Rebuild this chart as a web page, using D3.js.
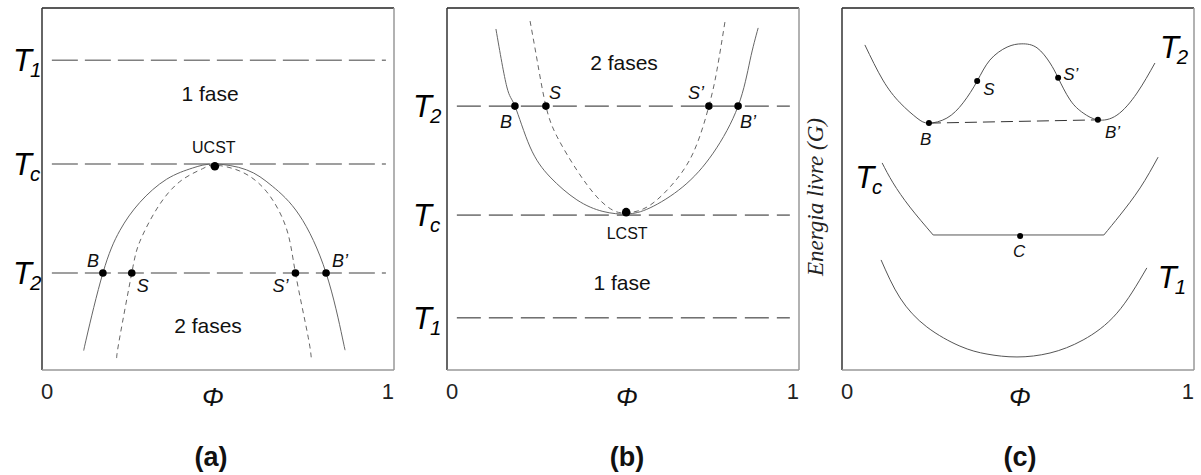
<!DOCTYPE html>
<html><head><meta charset="utf-8">
<script src="https://cdn.jsdelivr.net/npm/d3@7"></script>
<style>body{margin:0;background:#fff;} svg{display:block;}</style>
</head><body>
<svg id="chart" width="1201" height="475"></svg>
<script>
// ---------------- data ----------------
const phiTickLabels = ["0", "1"];
const panelTags = ["(a)", "(b)", "(c)"];
const levelSubs = ["1", "c", "2"];           // T1, Tc, T2

// panel (a): UCST diagram  [phi, T]
const levelsA = [0.856, 0.569, 0.268];      // T1, Tc, T2
const binodalA = [[0.119,0.055],[0.127,0.091],[0.173,0.268],[0.221,0.385],[0.278,0.463],[0.354,0.527],[0.428,0.558],[0.490,0.569],[0.581,0.553],[0.654,0.508],[0.731,0.428],[0.807,0.268],[0.853,0.091],[0.861,0.055]];
const spinodalA = [[0.212,0.033],[0.221,0.091],[0.255,0.268],[0.278,0.355],[0.326,0.445],[0.391,0.520],[0.456,0.556],[0.490,0.566],[0.561,0.550],[0.637,0.494],[0.694,0.392],[0.720,0.268],[0.754,0.102],[0.765,0.033]];
const pointNamesA = ["B", "S", "S’", "B’"];
const pointPhiA = [0.173, 0.255, 0.720, 0.807];
const criticalA = [0.491, 0.563];

// panel (b): LCST diagram  [phi, T]
const levelsB = [0.144, 0.428, 0.729];      // T1, Tc, T2
const binodalB = [[0.139,0.942],[0.170,0.782],[0.193,0.729],[0.236,0.616],[0.293,0.533],[0.369,0.470],[0.443,0.438],[0.511,0.431],[0.577,0.448],[0.670,0.506],[0.756,0.599],[0.827,0.729],[0.861,0.856],[0.884,0.945]];
const spinodalB = [[0.236,0.964],[0.256,0.856],[0.281,0.729],[0.313,0.644],[0.369,0.552],[0.426,0.478],[0.472,0.441],[0.511,0.434],[0.568,0.450],[0.634,0.506],[0.699,0.599],[0.744,0.729],[0.767,0.829],[0.790,0.964]];
const pointNamesB = ["B", "S", "S’", "B’"];
const pointPhiB = [0.193, 0.281, 0.744, 0.827];
const criticalB = [0.509, 0.436];

// panel (c): free energy curves  [phi, G]
const gT2 = [[0.065,0.898],[0.116,0.801],[0.165,0.738],[0.213,0.696],[0.247,0.682],[0.298,0.696],[0.344,0.738],[0.384,0.798],[0.420,0.856],[0.469,0.892],[0.511,0.901],[0.554,0.890],[0.591,0.848],[0.614,0.807],[0.648,0.746],[0.685,0.710],[0.727,0.691],[0.781,0.704],[0.838,0.765],[0.889,0.848]];
const gTcLeft = [[0.114,0.572],[0.145,0.517],[0.193,0.450],[0.259,0.373]];
const gTcFlat = [[0.259,0.373],[0.744,0.373]];
const gTcRight = [[0.744,0.373],[0.790,0.428],[0.847,0.503],[0.898,0.588]];
const gT1 = [[0.111,0.304],[0.165,0.199],[0.241,0.119],[0.335,0.066],[0.412,0.044],[0.497,0.036],[0.591,0.047],[0.685,0.083],[0.781,0.157],[0.866,0.282]];
const pointNamesC = ["B", "S", "S’", "B’"];
const pointsC = [[0.247,0.682],[0.384,0.798],[0.614,0.807],[0.727,0.691]];
const criticalC = [0.506, 0.370];
const criticalNameC = "C";
const yLabelC = "Energia livre (G)";

// ---------------- layout ----------------
const sans = "'Liberation Sans', Arial, Helvetica, sans-serif";
const serif = "'Liberation Serif', 'Times New Roman', serif";
const svg = d3.select("#chart");
const W = 352, yTop = 8, yBottom = 370;
const panelX = [42, 447, 842];

function makePanel(i) {
  const x = d3.scaleLinear().domain([0, 1]).range([panelX[i], panelX[i] + W]);
  const y = d3.scaleLinear().domain([0, 1]).range([yBottom, yTop]);
  const g = svg.append("g");
  // frame
  g.append("line").attr("x1", x(0)).attr("x2", x(1)).attr("y1", y(1)).attr("y2", y(1)).attr("stroke", "#222").attr("stroke-width", 1.5);
  g.append("line").attr("x1", x(0)).attr("x2", x(0)).attr("y1", y(1)).attr("y2", y(0)).attr("stroke", "#333").attr("stroke-width", 1.5);
  g.append("line").attr("x1", x(1)).attr("x2", x(1)).attr("y1", y(1)).attr("y2", y(0)).attr("stroke", "#999").attr("stroke-width", 1.5);
  g.append("line").attr("x1", x(0)).attr("x2", x(1)).attr("y1", y(0)).attr("y2", y(0)).attr("stroke", "#999").attr("stroke-width", 1.5);
  // tick labels 0 / 1
  g.append("text").attr("x", x(0) - 1).attr("y", 399).attr("font-family", sans).attr("font-size", 22).attr("fill", "#222").attr("text-anchor", "start").text(phiTickLabels[0]);
  g.append("text").attr("x", x(1)).attr("y", 399).attr("font-family", sans).attr("font-size", 22).attr("fill", "#222").attr("text-anchor", "end").text(phiTickLabels[1]);
  const off = [-5, 4, 2][i];
  g.append("text").attr("x", x(0.5) + off).attr("y", 406).attr("font-family", sans).attr("font-style", "italic").attr("font-size", 26).attr("fill", "#111").attr("text-anchor", "middle").text("Φ");
  g.append("text").attr("x", x(0.5) + [-7, 4, 2][i]).attr("y", 466).attr("font-family", sans).attr("font-weight", "bold").attr("font-size", 27).attr("fill", "#111").attr("text-anchor", "middle").text(panelTags[i]);
  return {g, x, y};
}

function tLabel(g, px, pyBase, sub, size) {
  const t = g.append("text").attr("x", px).attr("y", pyBase).attr("font-family", sans).attr("font-style", "italic").attr("font-size", size).attr("fill", "#000");
  t.append("tspan").text("T");
  t.append("tspan").attr("font-size", size * 0.66).attr("dx", -2).attr("dy", size * 0.2).text(sub);
}

function smallLabel(g, px, py, txt, size, anchor) {
  g.append("text").attr("x", px).attr("y", py).attr("font-family", sans).attr("font-style", "italic").attr("font-size", size).attr("fill", "#111").attr("text-anchor", anchor || "start").text(txt);
}
function plainLabel(g, px, py, txt, size) {
  g.append("text").attr("x", px).attr("y", py).attr("font-family", sans).attr("font-size", size).attr("fill", "#111").attr("text-anchor", "middle").text(txt);
}

const curve = d3.curveNatural;

// ---------- panel (a) ----------
{
  const {g, x, y} = makePanel(0);
  const line = d3.line().x(d => x(d[0])).y(d => y(d[1])).curve(curve);
  levelsA.forEach((lv, k) => {
    g.append("line").attr("x1", x(0.028)).attr("x2", x(0.977)).attr("y1", y(lv)).attr("y2", y(lv))
      .attr("stroke", "#808080").attr("stroke-width", 1.5).attr("stroke-dasharray", "26,7");
    tLabel(g, x(0) - 29, y(lv) + 11, levelSubs[k], 31);
  });
  g.append("path").attr("d", line(binodalA)).attr("fill", "none").attr("stroke", "#666").attr("stroke-width", 1);
  g.append("path").attr("d", line(spinodalA)).attr("fill", "none").attr("stroke", "#666").attr("stroke-width", 1).attr("stroke-dasharray", "5,4");
  const T2 = levelsA[2];
  pointPhiA.forEach(p => g.append("circle").attr("cx", x(p)).attr("cy", y(T2)).attr("r", 3.8).attr("fill", "#000"));
  g.append("circle").attr("cx", x(criticalA[0])).attr("cy", y(criticalA[1])).attr("r", 4.3).attr("fill", "#000");
  const dx = [-16, 5, -23, 6], dy = [-6, 19, 19, -6];
  pointNamesA.forEach((n, k) => smallLabel(g, x(pointPhiA[k]) + dx[k], y(T2) + dy[k], n, 18));
  plainLabel(g, x(criticalA[0]) - 1, y(levelsA[1]) - 11, "UCST", 16);
  plainLabel(g, x(0.5) - 8, y(levelsA[0]) + 41, "1 fase", 21);
  plainLabel(g, x(0.5) - 10, y(T2) + 60, "2 fases", 21);
}

// ---------- panel (b) ----------
{
  const {g, x, y} = makePanel(1);
  const line = d3.line().x(d => x(d[0])).y(d => y(d[1])).curve(curve);
  levelsB.forEach((lv, k) => {
    g.append("line").attr("x1", x(0.028)).attr("x2", x(0.974)).attr("y1", y(lv)).attr("y2", y(lv))
      .attr("stroke", "#222").attr("stroke-width", 1).attr("stroke-dasharray", "24,8");
    tLabel(g, x(0) - 34, y(lv) + 11, levelSubs[k], 31);
  });
  g.append("path").attr("d", line(binodalB)).attr("fill", "none").attr("stroke", "#666").attr("stroke-width", 1);
  g.append("path").attr("d", line(spinodalB)).attr("fill", "none").attr("stroke", "#666").attr("stroke-width", 1).attr("stroke-dasharray", "5,4");
  const T2 = levelsB[2];
  pointPhiB.forEach(p => g.append("circle").attr("cx", x(p)).attr("cy", y(T2)).attr("r", 3.8).attr("fill", "#000"));
  g.append("circle").attr("cx", x(criticalB[0])).attr("cy", y(criticalB[1])).attr("r", 4.3).attr("fill", "#000");
  const dx = [-15, 3, -21, 2], dy = [22, -7, -7, 22];
  pointNamesB.forEach((n, k) => smallLabel(g, x(pointPhiB[k]) + dx[k], y(T2) + dy[k], n, 18));
  plainLabel(g, x(criticalB[0]) + 1, y(levelsB[1]) + 24, "LCST", 16);
  plainLabel(g, x(0.5) + 1, y(T2) - 36, "2 fases", 21);
  plainLabel(g, x(0.5) - 1, y(levelsB[0]) - 28, "1 fase", 21);
}

// ---------- panel (c) ----------
{
  const {g, x, y} = makePanel(2);
  const line = d3.line().x(d => x(d[0])).y(d => y(d[1])).curve(curve);
  [gT2, gTcLeft, gTcFlat, gTcRight, gT1].forEach(s =>
    g.append("path").attr("d", line(s)).attr("fill", "none").attr("stroke", "#555").attr("stroke-width", 1));
  // common tangent B - B'
  g.append("line").attr("x1", x(pointsC[0][0])).attr("y1", y(pointsC[0][1])).attr("x2", x(pointsC[3][0])).attr("y2", y(pointsC[3][1]))
    .attr("stroke", "#333").attr("stroke-width", 1).attr("stroke-dasharray", "12,6");
  pointsC.forEach(p => g.append("circle").attr("cx", x(p[0])).attr("cy", y(p[1])).attr("r", 3).attr("fill", "#000"));
  g.append("circle").attr("cx", x(criticalC[0])).attr("cy", y(criticalC[1])).attr("r", 3).attr("fill", "#000");
  const dx = [-9, 6, 5, 7], dy = [22, 14, 2, 18];
  pointNamesC.forEach((n, k) => smallLabel(g, x(pointsC[k][0]) + dx[k], y(pointsC[k][1]) + dy[k], n, 17));
  smallLabel(g, x(criticalC[0]) - 1, y(criticalC[1]) + 21, criticalNameC, 17, "middle");
  // curve temperature labels
  tLabel(g, x(gT2[gT2.length - 1][0]) + 5, y(gT2[gT2.length - 1][1]) - 5, levelSubs[2], 31);
  tLabel(g, x(gTcLeft[0][0]) - 27, y(gTcLeft[0][1]) + 25, levelSubs[1], 31);
  tLabel(g, x(gT1[gT1.length - 1][0]) + 11, y(gT1[gT1.length - 1][1]) + 20, levelSubs[0], 31);
  // y label
  g.append("text").attr("transform", `translate(${x(0) - 19},${(yTop + yBottom) / 2 + 8}) rotate(-90)`)
    .attr("font-family", serif).attr("font-style", "italic").attr("font-size", 23).attr("fill", "#222")
    .attr("text-anchor", "middle").text(yLabelC);
}
</script>
</body></html>
